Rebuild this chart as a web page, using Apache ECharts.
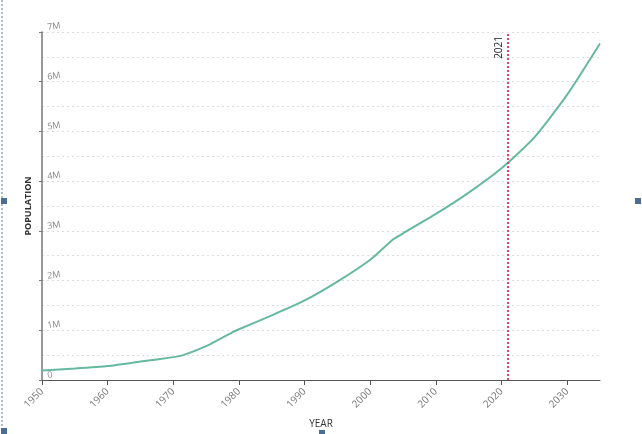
<!DOCTYPE html>
<html>
<head>
<meta charset="utf-8">
<script src="https://cdn.jsdelivr.net/npm/echarts@6/dist/echarts.min.js"></script>
<style>html,body{margin:0;padding:0;background:#fff}#c{width:642px;height:434px}</style>
</head>
<body>
<div id="c"></div>
<script>
var years = [1950, 1955, 1960, 1965, 1970, 1971.5, 1975, 1979, 1980, 1985, 1990, 1995, 2000, 2003.5, 2005, 2010, 2015, 2020, 2025, 2030, 2035];
var population = [0.19, 0.23, 0.28, 0.37, 0.46, 0.50, 0.68, 0.96, 1.02, 1.30, 1.60, 1.98, 2.42, 2.83, 2.95, 3.34, 3.77, 4.26, 4.88, 5.74, 6.77];
var markerYear = 2021;
var yTicks = ['0', '1M', '2M', '3M', '4M', '5M', '6M', '7M'];

var points = years.map(function (y, i) { return [y, population[i] * 1e6]; });

var chart = echarts.init(document.getElementById('c'), null, { renderer: 'canvas' });
chart.setOption({
  animation: false,
  grid: { left: 42, right: 42, top: 32, bottom: 49 },
  xAxis: {
    type: 'value', min: 1950, max: 2035, interval: 10,
    name: 'YEAR', nameLocation: 'middle', nameGap: 39,
    nameTextStyle: { color: '#333', fontSize: 10, fontFamily: 'Open Sans' },
    axisLine: { lineStyle: { color: '#555', width: 1 } },
    axisTick: { show: true, length: 5, lineStyle: { color: '#555' } },
    axisLabel: { rotate: 45, color: '#777', fontSize: 10, fontFamily: 'Open Sans', margin: 10,
      showMaxLabel: false,
      formatter: function (v) { return v === 2035 ? '' : String(v); } },
    splitLine: { show: false }
  },
  yAxis: {
    type: 'value', min: 0, max: 7e6, interval: 1e6,
    name: 'POPULATION', nameLocation: 'middle', nameGap: 9, nameRotate: 90,
    nameTextStyle: { color: '#333', fontSize: 9, fontWeight: 'bold', fontFamily: 'Open Sans' },
    axisLine: { show: true, lineStyle: { color: '#777', width: 1.5 } },
    axisTick: { show: true, inside: false, length: 3, lineStyle: { color: '#777' } },
    axisLabel: { inside: true, color: '#888', fontSize: 9, fontFamily: 'Open Sans', margin: 6,
      verticalAlign: 'bottom', rotate: 8,
      formatter: function (v) { return yTicks[Math.round(v / 1e6)]; } },
    splitLine: { show: true, lineStyle: { color: '#ddd', type: [2, 3], width: 1 } },
    minorTick: { show: false, splitNumber: 2 },
    minorSplitLine: { show: true, lineStyle: { color: '#ddd', type: [2, 3], width: 1 } }
  },
  series: [{
    type: 'line', data: points, showSymbol: false, smooth: 0.2,
    lineStyle: { color: '#66b9a0', width: 2 },
    markLine: {
      silent: true, symbol: ['none', 'none'],
      lineStyle: { color: '#e8455c', type: [2, 2], width: 2 },
      label: { show: true, position: 'insideEndTop', formatter: String(markerYear),
        color: '#222', fontSize: 10, fontFamily: 'Open Sans', distance: 4 },
      data: [{ xAxis: markerYear }]
    }
  }],
  graphic: [
    { type: 'line', shape: { x1: 2, y1: 0, x2: 2, y2: 434 }, style: { stroke: '#5a7fa8', lineWidth: 1, lineDash: [2, 2] } },
    { type: 'rect', shape: { x: 1, y: 198, width: 6, height: 6 }, style: { fill: '#4a6d96' } },
    { type: 'rect', shape: { x: 1, y: 428, width: 6, height: 6 }, style: { fill: '#4a6d96' } },
    { type: 'rect', shape: { x: 635, y: 198, width: 6, height: 6 }, style: { fill: '#4a6d96' } },
    { type: 'rect', shape: { x: 319, y: 430, width: 6, height: 6 }, style: { fill: '#4a6d96' } }
  ]
});
</script>
</body>
</html>
